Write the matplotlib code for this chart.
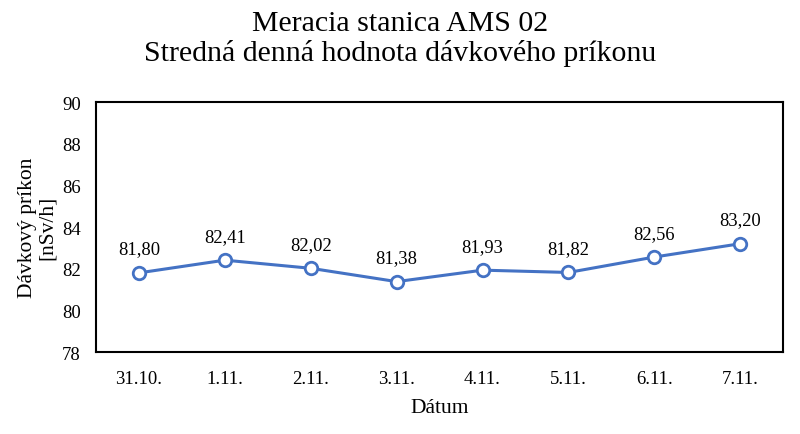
import matplotlib

matplotlib.use("Agg")
import matplotlib.pyplot as plt

plt.rcParams["font.family"] = ["Liberation Serif", "DejaVu Serif"]

dates = ["31.10.", "1.11.", "2.11.", "3.11.", "4.11.", "5.11.", "6.11.", "7.11."]
dose_rate = [81.80, 82.41, 82.02, 81.38, 81.93, 81.82, 82.56, 83.20]

fig = plt.figure(figsize=(8, 4.35), dpi=100)
ax = fig.add_axes([0.12, 0.1885, 0.859, 0.5745])

x = range(len(dates))
ax.plot(x, dose_rate, "-o", color="#4472C4", lw=2.2, ms=9,
        mfc="white", mec="#4472C4", mew=2)
for xi, v in zip(x, dose_rate):
    ax.annotate(f"{v:.2f}".replace(".", ","), (xi, v), xytext=(0, 11),
                textcoords="offset points", ha="center", va="bottom", fontsize=13.3)

ax.set_xlim(-0.5, len(dates) - 0.5)
ax.set_ylim(78, 90)
ax.set_yticks(range(78, 91, 2))
ax.set_xticks(list(x))
ax.set_xticklabels(dates)
ax.tick_params(length=0, labelsize=13.5)
ax.tick_params(axis="x", pad=13)
ax.tick_params(axis="y", pad=11)
for s in ax.spines.values():
    s.set_linewidth(1.5)

ax.set_xlabel("Dátum", fontsize=15.5, labelpad=8)
ax.set_ylabel("Dávkový príkon\n[nSv/h]", fontsize=15.5, labelpad=4, linespacing=1.0)
fig.suptitle("Meracia stanica AMS 02\nStredná denná hodnota dávkového príkonu",
             fontsize=21.5, y=0.975, linespacing=1.15)

fig.savefig("out.png", dpi=100)
